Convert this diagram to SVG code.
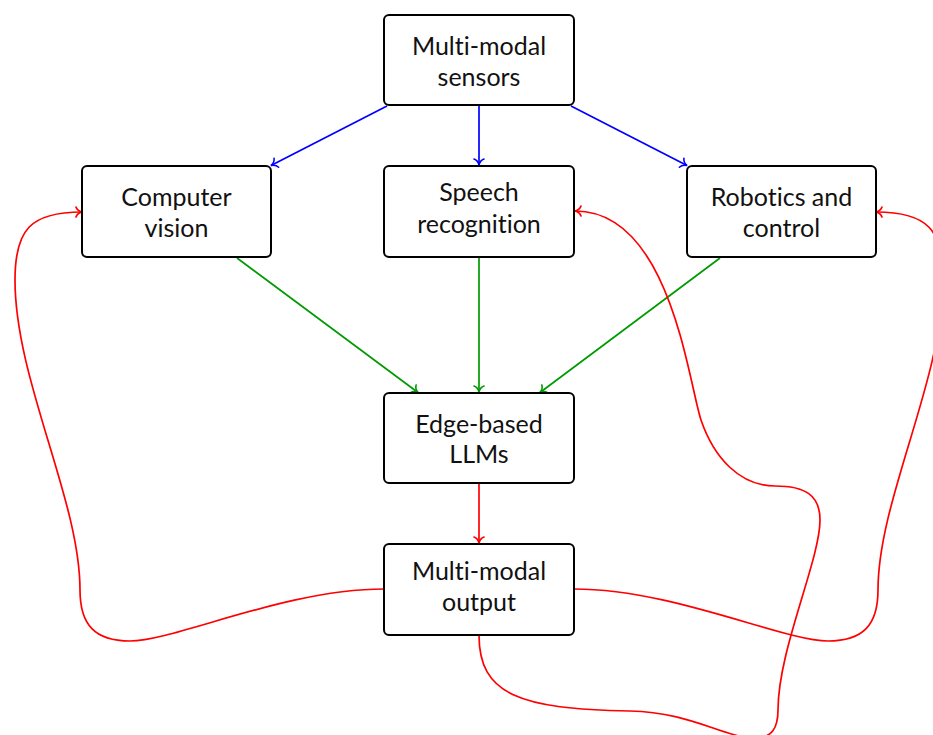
<svg xmlns="http://www.w3.org/2000/svg" width="933" height="735" viewBox="0 0 933 735">
<style>
.box{fill:#fff;stroke:#000;stroke-width:2}
.t{font-family:Lato,"Open Sans","Liberation Sans",sans-serif;font-size:25px;fill:#111;text-anchor:middle;font-variant-ligatures:none}
.c{fill:none;stroke-width:1.7}
.b{stroke:#0000ff}
.g{stroke:#009a00}
.r{stroke:#ff0000}
</style>
<defs>
<marker id="ab" viewBox="-10 -10 20 20" markerWidth="20" markerHeight="20" refX="0" refY="0" orient="auto" markerUnits="userSpaceOnUse" overflow="visible"><path d="M-6,-5 C-5,-2 -2,-0.5 0,0 C-2,0.5 -5,2 -6,5" fill="none" stroke="#0000ff" stroke-width="1.6" stroke-linecap="round"/></marker>
<marker id="ag" viewBox="-10 -10 20 20" markerWidth="20" markerHeight="20" refX="0" refY="0" orient="auto" markerUnits="userSpaceOnUse" overflow="visible"><path d="M-6,-5 C-5,-2 -2,-0.5 0,0 C-2,0.5 -5,2 -6,5" fill="none" stroke="#009a00" stroke-width="1.6" stroke-linecap="round"/></marker>
<marker id="ar" viewBox="-10 -10 20 20" markerWidth="20" markerHeight="20" refX="0" refY="0" orient="auto" markerUnits="userSpaceOnUse" overflow="visible"><path d="M-6,-5 C-5,-2 -2,-0.5 0,0 C-2,0.5 -5,2 -6,5" fill="none" stroke="#ff0000" stroke-width="1.7" stroke-linecap="round"/></marker>
</defs>
<g id="connectors">
<path class="c b" d="M387,106 L271,165.5" marker-end="url(#ab)"/>
<path class="c b" d="M479,106 L479,165" marker-end="url(#ab)"/>
<path class="c b" d="M571,106 L687,165.5" marker-end="url(#ab)"/>
<path class="c g" d="M237,258 L418,392.5" marker-end="url(#ag)"/>
<path class="c g" d="M479,258 L479,392" marker-end="url(#ag)"/>
<path class="c g" d="M720,258 L540,392.5" marker-end="url(#ag)"/>
<path class="c r" d="M479,484 L479,543" marker-end="url(#ar)"/>
<path class="c r" d="M384,589 C285,589 175,641 130,641 C95,641 80,625 80,590 C80,500 15,380 15,280 C15,230 30,212 82,212" marker-end="url(#ar)"/>
<path class="c r" d="M574,589 C673,589 783,641 828,641 C863,641 878,625 878,590 C878,500 943,380 943,280 C943,230 928,212 876,212" marker-end="url(#ar)"/>
<path class="c r" d="M479,635 C479,695 520,709 630,711 C690,712 725,738 755,738 C772,738 778,728 778,710 C778,650 820,560 820,520 C820,495 805,486 775,486 C740,486 714,458 701,420 C688,380 670,211 575,211" marker-end="url(#ar)"/>
</g>
<g id="sensors"><rect class="box" x="384" y="15" width="190" height="90" rx="5"/><text class="t" x="479" y="55">Multi-modal</text><text class="t" x="479" y="86">sensors</text></g>
<g id="vision"><rect class="box" x="82" y="166" width="189" height="91" rx="5"/><text class="t" x="176.5" y="206">Computer</text><text class="t" x="176.5" y="236.5">vision</text></g>
<g id="speech"><rect class="box" x="384" y="166" width="190" height="91" rx="5"/><text class="t" x="479" y="201">Speech</text><text class="t" x="479" y="232.5">recognition</text></g>
<g id="robotics"><rect class="box" x="687" y="166" width="189" height="91" rx="5"/><text class="t" x="781.5" y="206">Robotics and</text><text class="t" x="781.5" y="236.5">control</text></g>
<g id="llm"><rect class="box" x="384" y="393" width="190" height="90" rx="5"/><text class="t" x="479" y="432.5">Edge-based</text><text class="t" x="479" y="463">LLMs</text></g>
<g id="output"><rect class="box" x="384" y="544" width="190" height="91" rx="5"/><text class="t" x="479" y="580">Multi-modal</text><text class="t" x="479" y="610.5">output</text></g>
</svg>
